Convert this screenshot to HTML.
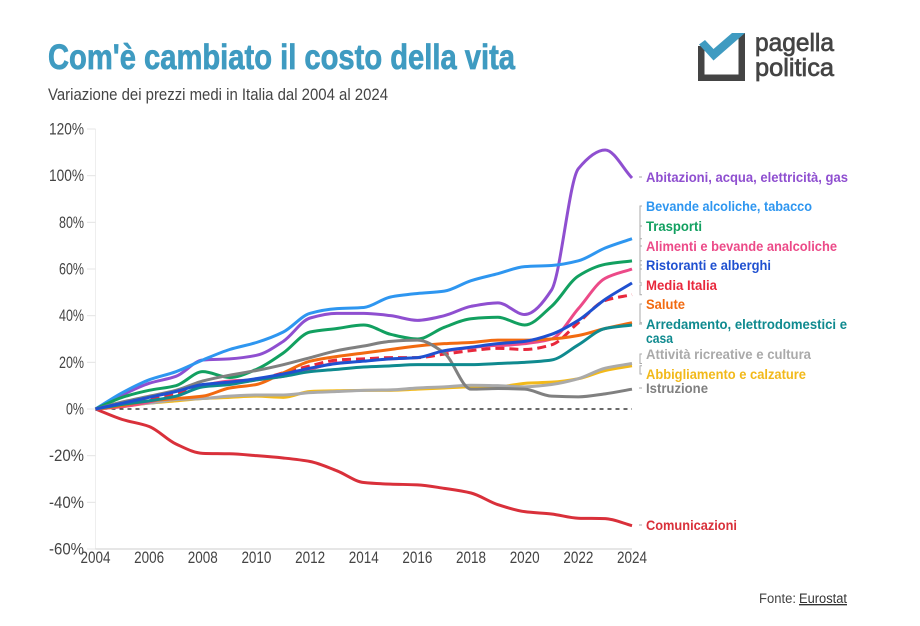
<!DOCTYPE html>
<html lang="it">
<head>
<meta charset="utf-8">
<title>Com'è cambiato il costo della vita</title>
<style>
html,body{margin:0;padding:0;background:#fff;}
svg{display:block;}
text{font-family:"Liberation Sans",sans-serif;}
.tick{font-size:16.5px;fill:#444;}
.lab{font-size:13.5px;font-weight:bold;stroke-width:.15px;}
</style>
</head>
<body>
<svg id="chart" xmlns="http://www.w3.org/2000/svg" width="920" height="626" viewBox="0 0 920 626">
  <text x="48" y="69" font-size="35" font-weight="bold" fill="#3f9bc1" stroke="#3f9bc1" stroke-width=".7" textLength="467" lengthAdjust="spacingAndGlyphs">Com'è cambiato il costo della vita</text>
  <text x="48" y="100" font-size="17" fill="#444" textLength="340" lengthAdjust="spacingAndGlyphs">Variazione dei prezzi medi in Italia dal 2004 al 2024</text>

  <g>
    <path d="M698 46H704.500V74.500H738.500V36L745 33V81H698Z" fill="#444"/>
    <path d="M699 44.500L705 40L713.500 49L732 33H745L713.500 60.500Z" fill="#3f9bc1"/>
    <text x="755" y="51" font-size="25" fill="#444" stroke="#444" stroke-width=".7" textLength="79" lengthAdjust="spacingAndGlyphs">pagella</text>
    <text x="755" y="76" font-size="25" fill="#444" stroke="#444" stroke-width=".7" textLength="79" lengthAdjust="spacingAndGlyphs">politica</text>
  </g>

  <g id="axes"></g>
  <g id="marks"></g>
  <g id="leaders"></g>

  <g>
    <text id="l-abitazioni" class="lab" x="646" y="182" fill="#8f4fd0" textLength="202" lengthAdjust="spacingAndGlyphs">Abitazioni, acqua, elettricità, gas</text>
    <text id="l-bevande" class="lab" x="646" y="211" fill="#2e96f0" textLength="166" lengthAdjust="spacingAndGlyphs">Bevande alcoliche, tabacco</text>
    <text id="l-trasporti" class="lab" x="646" y="231" fill="#12a060" textLength="56" lengthAdjust="spacingAndGlyphs">Trasporti</text>
    <text id="l-alimenti" class="lab" x="646" y="251" fill="#ec4a88" textLength="191" lengthAdjust="spacingAndGlyphs">Alimenti e bevande analcoliche</text>
    <text id="l-ristoranti" class="lab" x="646" y="270" fill="#1f50d0" textLength="125" lengthAdjust="spacingAndGlyphs">Ristoranti e alberghi</text>
    <text id="l-media" class="lab" x="646" y="290" fill="#e8283c" textLength="71" lengthAdjust="spacingAndGlyphs">Media Italia</text>
    <text id="l-salute" class="lab" x="646" y="309" fill="#f26a10" textLength="39" lengthAdjust="spacingAndGlyphs">Salute</text>
    <text id="l-arredamento" class="lab" x="646" y="329" fill="#0f8a8f" textLength="201" lengthAdjust="spacingAndGlyphs">Arredamento, elettrodomestici e</text>
    <text class="lab" x="646" y="343" fill="#0f8a8f" textLength="27" lengthAdjust="spacingAndGlyphs">casa</text>
    <text id="l-attivita" class="lab" x="646" y="359" fill="#aaaaaa" textLength="165" lengthAdjust="spacingAndGlyphs">Attività ricreative e cultura</text>
    <text id="l-abbigliamento" class="lab" x="646" y="379" fill="#f2b91a" textLength="160" lengthAdjust="spacingAndGlyphs">Abbigliamento e calzature</text>
    <text id="l-istruzione" class="lab" x="646" y="393" fill="#808080" textLength="62" lengthAdjust="spacingAndGlyphs">Istruzione</text>
    <text id="l-comunicazioni" class="lab" x="646" y="530" fill="#d9303a" textLength="91" lengthAdjust="spacingAndGlyphs">Comunicazioni</text>
  </g>

  <text x="759" y="603" font-size="13.500" fill="#444" textLength="37" lengthAdjust="spacingAndGlyphs">Fonte:</text>
  <text x="799" y="603" font-size="13.500" fill="#333" text-decoration="underline" textLength="48" lengthAdjust="spacingAndGlyphs">Eurostat</text>
</svg>

<script>
const years = [2004,2005,2006,2007,2008,2009,2010,2011,2012,2013,2014,2015,2016,2017,2018,2019,2020,2021,2022,2023,2024];
const xTickYears = [2004,2006,2008,2010,2012,2014,2016,2018,2020,2022,2024];
const yTicks = [120,100,80,60,40,20,0,-20,-40,-60];

const abitazioni = [0,6,11,14,21,21.5,23,29,39,41,41,40,38,40,44,45.5,40.5,51,103,111,99];
const bevande = [0,7,12.5,16,21,25.5,28.5,33,41,43,43.5,48,49.5,50.5,55,58,61,61.5,63.5,69,73];
const trasporti = [0,5,8,10,16,13.5,17,24,33,34.5,36,32,30,35,38.7,39.3,36,44,57,62,63.5];
const alimenti = [0,1,3,6,10,12,12.5,14,17,20,21,21.5,22,24,25.5,27,28,30,43,56,60];
const ristoranti = [0,2.5,5,7.5,10.5,11.5,13,15,17.5,19.5,20.5,21.5,22,25,26.5,28,29,32,38,47,54];
const mediaItalia = [0,2.2,4.2,6.5,10,11,12.5,15.5,18.5,21,21.5,22,22,23.5,25,26,25.5,27.5,37,46.5,49];
const salute = [0,1.5,3.5,4.5,5.5,9,10.5,15.5,20.5,22.5,24,25.5,27,28,28.5,29.5,29.5,30,31.5,34.5,37];
const arredamento = [0,2,3.5,5.5,9.5,10.5,12.5,14,16,17,18,18.5,19,19,19,19.5,20,21,27.5,34.5,36];
const attivita = [0,1.5,2.5,4,4.5,5.5,6,6,7,7.5,8,8.2,9,9.5,10.2,10,9.5,10.5,13,17.5,19.5];
const abbigliamento = [0,1,2.5,3.5,4.5,5,5.5,5,7.5,7.8,8,8,8.5,9,9.5,9.5,11,11.5,13,16.5,18.5];
const istruzione = [0,3,5.5,8,12,14.5,16.5,19,22,25,27,29,29.5,24,8.5,8.8,8.5,5.5,5.2,6.5,8.5];
const comunicazioni = [0,-4.5,-7.5,-15,-19,-19.2,-20,-21,-22.5,-26.5,-31.5,-32.2,-32.5,-34,-36,-41,-44,-45,-46.8,-47,-50];

const SVGNS = 'http://www.w3.org/2000/svg';
const xScale = function (year) { return 95.5 + (year - 2004) * (632 - 95.5) / 20; };
const yScale = function (pct) { return 409 - pct * 2.3333; };

const seriesList = [
  {key:'abbigliamento', values:abbigliamento, color:'#f2b91a'},
  {key:'attivita', values:attivita, color:'#aaaaaa'},
  {key:'comunicazioni', values:comunicazioni, color:'#d9303a'},
  {key:'abitazioni', values:abitazioni, color:'#8f4fd0'},
  {key:'bevande', values:bevande, color:'#2e96f0'},
  {key:'trasporti', values:trasporti, color:'#12a060'},
  {key:'alimenti', values:alimenti, color:'#ec4a88'},
  {key:'media', values:mediaItalia, color:'#e8283c', dashed:true},
  {key:'salute', values:salute, color:'#f26a10'},
  {key:'istruzione', values:istruzione, color:'#808080'},
  {key:'arredamento', values:arredamento, color:'#0f8a8f'},
  {key:'ristoranti', values:ristoranti, color:'#1f50d0'}
];

/* monotone cubic path through the yearly points */
function curvePath(values) {
  const xs = years.map(xScale);
  const ys = values.map(yScale);
  const n = xs.length;
  const slopes = [];
  for (let i = 0; i < n - 1; i++) slopes.push((ys[i + 1] - ys[i]) / (xs[i + 1] - xs[i]));
  const tangents = [slopes[0]];
  for (let i = 1; i < n - 1; i++) {
    tangents.push(slopes[i - 1] * slopes[i] <= 0 ? 0 : 2 * slopes[i - 1] * slopes[i] / (slopes[i - 1] + slopes[i]));
  }
  tangents.push(slopes[n - 2]);
  let d = 'M' + xs[0].toFixed(2) + ' ' + ys[0].toFixed(2);
  for (let i = 0; i < n - 1; i++) {
    const h = (xs[i + 1] - xs[i]) / 3;
    d += 'C' + (xs[i] + h).toFixed(2) + ' ' + (ys[i] + tangents[i] * h).toFixed(2) + ' ' +
      (xs[i + 1] - h).toFixed(2) + ' ' + (ys[i + 1] - tangents[i + 1] * h).toFixed(2) + ' ' +
      xs[i + 1].toFixed(2) + ' ' + ys[i + 1].toFixed(2);
  }
  return d;
}

function make(tag, attrs, parent) {
  const el = document.createElementNS(SVGNS, tag);
  for (const k in attrs) el.setAttribute(k, attrs[k]);
  parent.appendChild(el);
  return el;
}

const axes = document.getElementById('axes');
const marks = document.getElementById('marks');
const leaders = document.getElementById('leaders');

const yAxisLine = make('line', {x1:95.5, x2:95.5, y1:yScale(120), y2:yScale(-60), stroke:'#eeeeee', 'stroke-width':1}, axes);



const xAxisLine = make('line', {x1:95.5, x2:632, y1:yScale(-60), y2:yScale(-60), stroke:'#cccccc', 'stroke-width':1}, axes);



yTicks.forEach(function (t) {
  const mark = make('line', {x1:87, x2:95.5, y1:yScale(t), y2:yScale(t), stroke:'#e4e4e4', 'stroke-width':1}, axes);
  
  
  const label = t + '%';
  const w = label.length === 4 ? 35 : (label.length === 3 ? 25 : 18);
  const txt = make('text', {class:'tick', x:84, y:yScale(t) + 5.5, 'text-anchor':'end', textLength:w, lengthAdjust:'spacingAndGlyphs'}, axes);
  
  
  txt.textContent = label;
});

xTickYears.forEach(function (y) {
  const txt = make('text', {class:'tick', x:xScale(y), y:563, 'text-anchor':'middle', textLength:30, lengthAdjust:'spacingAndGlyphs'}, axes);
  
  
  txt.textContent = String(y);
});

const zeroLine = make('line', {x1:xScale(2004), x2:xScale(2024), y1:yScale(0), y2:yScale(0), stroke:'#111', 'stroke-width':1.3, 'stroke-dasharray':'4 4'}, axes);



seriesList.forEach(function (s) {
  const d = curvePath(s.values);
  if (s.dashed) {
    const under = make('path', {d:d, fill:'none', stroke:'#ffffff', 'stroke-width':3}, marks);
    
    
  }
  const attrs = {d:d, fill:'none', stroke:s.color, 'stroke-width':3, 'stroke-linejoin':'round'};
  if (s.dashed) attrs['stroke-dasharray'] = '9 5';
  const line = make('path', attrs, marks);
  
  

  const labelEl = document.getElementById('l-' + s.key);
  const endY = yScale(s.values[s.values.length - 1]);
  const labelY = parseFloat(labelEl.getAttribute('y')) - 5;
  const close = Math.abs(endY - labelY) < 6;
  const leaderD = close
    ? 'M639 ' + labelY + 'H642'
    : 'M642 ' + endY.toFixed(1) + 'H640V' + labelY + 'H642';
  const leader = make('path', {d:leaderD, fill:'none', stroke:'#aaaaaa', 'stroke-width':1}, leaders);
  
  
});
</script>
</body>
</html>
